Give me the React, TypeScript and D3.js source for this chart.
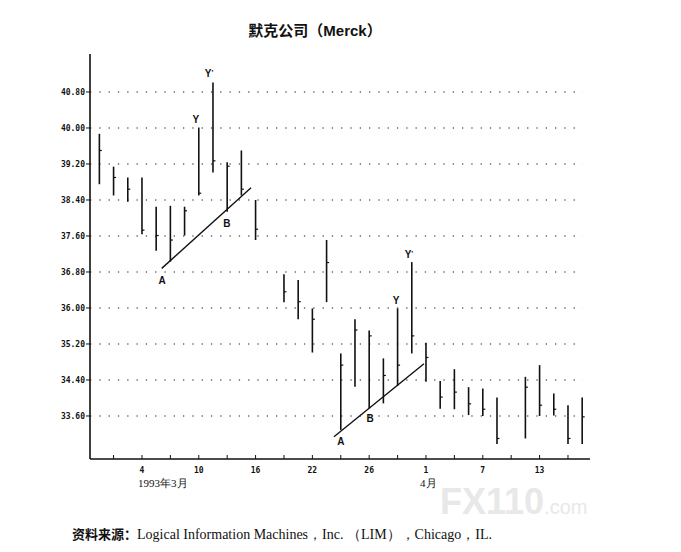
import * as d3 from "d3"

// trading-day slots, 1993-03-01 .. 1993-04-16 (null = no bar that day)
const days = [
  "3/1", "3/2", "3/3", "3/4", "3/5", "3/8", "3/9", "3/10", "3/11", "3/12",
  "3/15", "3/16", "3/17", "3/18", "3/19", "3/22", "3/23", "3/24", "3/25", "3/26",
  "3/29", "3/30", "3/31", "4/1", "4/2", "4/5", "4/6", "4/7", "4/8", "4/9",
  "4/12", "4/13", "4/14", "4/15", "4/16",
]
const highs = [
  39.87, 39.14, 38.9, 38.9, 38.25, 38.27, 38.25, 40.01, 41.01, 39.24,
  39.5, 38.4, null, 36.75, 36.62, 35.99, 37.51, 34.99, 35.75, 35.5,
  34.88, 35.99, 37.02, 35.23, 34.38, 34.64, 34.24, 34.21, 34.01, null,
  34.47, 34.73, 34.1, 33.84, 34.01,
]
const lows = [
  38.75, 38.5, 38.36, 37.64, 37.27, 37.03, 37.61, 38.5, 39.01, 38.14,
  38.5, 37.51, null, 36.13, 35.75, 35.01, 36.13, 33.29, 34.25, 33.77,
  33.88, 34.27, 34.99, 34.36, 33.76, 33.75, 33.62, 33.6, 32.98, null,
  33.1, 33.6, 33.61, 32.98, 32.98,
]
const closes = [
  39.5, 38.9, 38.64, 37.73, 37.61, 37.51, 38.16, 38.55, 39.27, 39.15,
  38.64, 37.75, null, 36.36, 36.14, 35.75, 37.01, 34.73, 35.51, 35.38,
  34.5, 34.73, 35.38, 34.9, 34.02, 34.13, 33.87, 33.75, 33.1, null,
  34.24, 33.84, 33.75, 33.1, 33.58,
]

const yTicks = [33.6, 34.4, 35.2, 36.0, 36.8, 37.6, 38.4, 39.2, 40.0, 40.8]
const tickSlots = [1, 3, 5, 7, 9, 11, 13, 15, 17, 19, 21, 23, 25, 27, 29, 31, 33]
const labelSlots = [3, 7, 11, 15, 19, 23, 27, 31]
const labelText = ["4", "10", "16", "22", "26", "1", "7", "13"]

// trend lines [slot, price]
const trendLines = [
  [[4.39, 36.88], [10.68, 38.67]],
  [[16.52, 33.14], [22.86, 34.76]],
]
const notes = [
  { t: "A", i: 4.41, v: 36.62 },
  { t: "B", i: 8.98, v: 37.89 },
  { t: "Y", i: 6.8, v: 40.2 },
  { t: "Y'", i: 7.72, v: 41.22 },
  { t: "A", i: 17.01, v: 33.04 },
  { t: "B", i: 19.06, v: 33.56 },
  { t: "Y", i: 20.89, v: 36.18 },
  { t: "Y'", i: 21.8, v: 37.2 },
]

const W = 681
const H = 552
const x = d3.scaleLinear().domain([-0.66, 34.55]).range([90, 590])
const y = d3.scaleLinear().domain([32.644, 41.644]).range([459, 54])
const line = d3.line<number[]>().x((d) => x(d[0])).y((d) => y(d[1]))

const mono = "'DejaVu Sans Mono', monospace"
const cjk = "'Noto Sans CJK SC', sans-serif"
const serif = "'Liberation Serif', 'DejaVu Serif', serif"
const sans = "'Liberation Sans', sans-serif"

export default function App() {
  return (
    <svg width={W} height={H} style={{ position: "absolute", left: 0, top: 0, background: "#fff" }}>
      <text x={315} y={36} textAnchor="middle" fontFamily={cjk} fontWeight="bold" fontSize={15} fill="#111">
        默克公司（<tspan fontFamily={sans}>Merck</tspan>）
      </text>

      {/* grid */}
      {yTicks.map((v) => (
        <g key={v}>
          <line x1={x.range()[0]} x2={583} y1={y(v)} y2={y(v)} stroke="#666" strokeWidth={1.3} strokeDasharray="1.3 8" />
          <line x1={86} x2={90} y1={y(v)} y2={y(v)} stroke="#111" strokeWidth={1} />
          <text x={85} y={y(v) + 3} textAnchor="end" fontFamily={mono} fontWeight="bold" fontSize={8} fill="#111">
            {v.toFixed(2)}
          </text>
        </g>
      ))}

      {/* axes */}
      <line x1={90} x2={90} y1={54} y2={459} stroke="#111" strokeWidth={1.6} />
      <line x1={90} x2={590} y1={459} y2={459} stroke="#111" strokeWidth={1.6} />
      {tickSlots.map((i) => (
        <line key={i} x1={x(i)} x2={x(i)} y1={459} y2={455} stroke="#111" strokeWidth={1} />
      ))}
      {labelSlots.map((i, k) => (
        <text key={i} x={x(i)} y={473} textAnchor="middle" fontFamily={mono} fontWeight="bold" fontSize={8} fill="#111">
          {labelText[k]}
        </text>
      ))}
      <text x={138} y={487} fontFamily={serif} fontSize={11} fill="#111">1993年3月</text>
      <text x={420} y={487} fontFamily={serif} fontSize={11} fill="#111">4月</text>

      {/* high-low bars with close tick */}
      {days.map((d, i) =>
        highs[i] == null ? null : (
          <g key={d}>
            <line x1={x(i)} x2={x(i)} y1={y(highs[i] as number)} y2={y(lows[i] as number)} stroke="#111" strokeWidth={1.6} />
            <line x1={x(i)} x2={x(i) + 2.5} y1={y(closes[i] as number)} y2={y(closes[i] as number)} stroke="#111" strokeWidth={1.2} />
          </g>
        )
      )}

      {trendLines.map((l, k) => (
        <path key={k} d={line(l) ?? ""} fill="none" stroke="#111" strokeWidth={1.4} />
      ))}
      {notes.map((n, k) => (
        <text key={k} x={x(n.i)} y={y(n.v) + 4} textAnchor="middle" fontFamily={sans} fontWeight="bold" fontSize={10} fill="#111">
          {n.t === "Y'" ? (
            <>
              Y<tspan fontSize={8} dy={-2}>'</tspan>
            </>
          ) : (
            n.t
          )}
        </text>
      ))}

      {/* watermark */}
      <text x={440} y={514} fontFamily={sans} fontWeight="bold" fontSize={36} fill="#e8e8e8">
        FX110<tspan fontSize={20} fontWeight="normal">.com</tspan>
      </text>

      <text x={72} y={539} fontSize={14} fill="#111" fontFamily={serif}>
        <tspan fontFamily={cjk} fontWeight="bold" fontSize={13}>资料来源：</tspan>Logical Information Machines，Inc. （LIM），Chicago，IL.
      </text>
    </svg>
  )
}
